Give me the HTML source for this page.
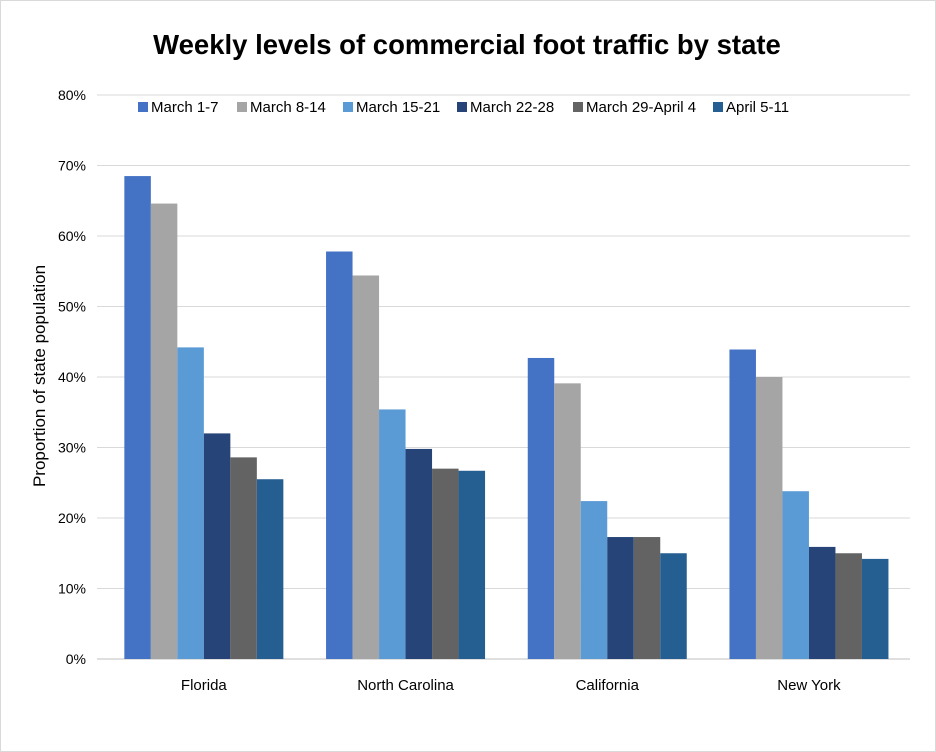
<!DOCTYPE html>
<html><head><meta charset="utf-8"><style>
body{margin:0;background:#fff;}
svg{display:block;font-family:"Liberation Sans",sans-serif;}
</style></head><body>
<svg id="chart" width="936" height="752">
<rect x="0.5" y="0.5" width="935" height="751" fill="#fff" stroke="#d9d9d9"/>
<text x="467" y="54" text-anchor="middle" font-size="27.5" font-weight="bold" fill="#000">Weekly levels of commercial foot traffic by state</text>
<text transform="translate(45,376) rotate(-90)" text-anchor="middle" font-size="17" fill="#000">Proportion of state population</text>
<g id="grid"></g><g id="bars"></g><g id="legend"></g>
</svg>
<script>
const categories=["Florida","North Carolina","California","New York"];
const seriesNames=["March 1-7","March 8-14","March 15-21","March 22-28","March 29-April 4","April 5-11"];
const s1=[68.5,57.8,42.7,43.9];
const s2=[64.6,54.4,39.1,40.0];
const s3=[44.2,35.4,22.4,23.8];
const s4=[32.0,29.8,17.3,15.9];
const s5=[28.6,27.0,17.3,15.0];
const s6=[25.5,26.7,15.0,14.2];
const yTicks=[0,10,20,30,40,50,60,70,80];
const series=[s1,s2,s3,s4,s5,s6];
const colors=["#4472C4","#A5A5A5","#5B9BD5","#264478","#636363","#255E91"];
const NS="http://www.w3.org/2000/svg";
const x0=103,catW=201.7,gx0=97,gx1=910,yB=659,yT=95;
const y=v=>yB-(v/80)*(yB-yT);
const barW=26.5;
function mk(t,a,p){const e=document.createElementNS(NS,t);for(const k in a)e.setAttribute(k,a[k]);p.appendChild(e);return e;}
const grid=document.getElementById('grid');
yTicks.forEach(t=>{
 const l=mk('line',{x1:gx0,x2:gx1,y1:y(t),y2:y(t),stroke:t===0?'#bfbfbf':'#d9d9d9','stroke-width':1},grid);
 
 
 const tx=mk('text',{x:86,y:y(t)+5,'text-anchor':'end','font-size':14,fill:'#000'},grid);
 tx.textContent=t+'%';
 
 
});
const bars=document.getElementById('bars');
categories.forEach((c,i)=>{
 const start=x0+i*catW+(catW-barW*6)/2;
 series.forEach((s,j)=>{
  const r=mk('rect',{x:start+j*barW,y:y(s[i]),width:barW,height:yB-y(s[i]),fill:colors[j]},bars);
  
  
 });
 const t=mk('text',{x:x0+i*catW+catW/2,y:690,'text-anchor':'middle','font-size':15,fill:'#000'},bars);
 t.textContent=c;
 
 
});
const lg=document.getElementById('legend');
let lx=138;
const widths=[99,106,114,116,140,86];
seriesNames.forEach((n,j)=>{
 const r=mk('rect',{x:lx,y:102,width:10,height:10,fill:colors[j]},lg);
 
 
 const t=mk('text',{x:lx+13,y:112,'font-size':15,fill:'#000'},lg);
 t.textContent=n;
 
 
 lx+=widths[j];
});
</script>
</body></html>
